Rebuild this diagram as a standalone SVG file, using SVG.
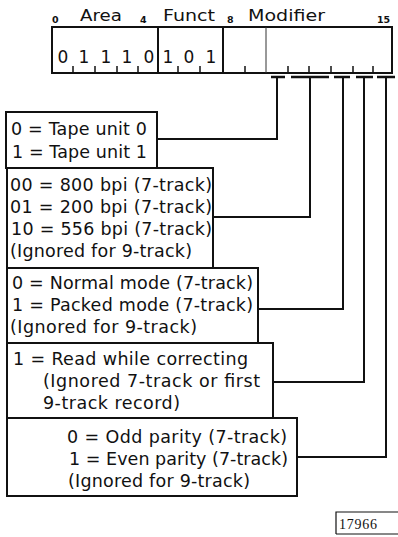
<svg xmlns="http://www.w3.org/2000/svg" width="398" height="537" viewBox="0 0 398 537">
<style>
text{font-family:"DejaVu Sans","Liberation Sans",sans-serif;fill:#111}
.t{font-size:17.5px}
.h{font-size:16.5px}
.n{font-size:9.5px;font-weight:bold}
.d{font-size:17px;text-anchor:middle}
.box{fill:#fff;stroke:#111;stroke-width:2}
.ln{fill:none;stroke:#111;stroke-width:2}
.tk{stroke:#111;stroke-width:1.5}
.cap{stroke:#111;stroke-width:2.5}
</style>
<rect width="398" height="537" fill="#fff"/>
<g id="register">
<text class="n" x="52" y="23">0</text>
<text class="h" x="80" y="21" textLength="42" lengthAdjust="spacingAndGlyphs">Area</text>
<text class="n" x="140" y="23">4</text>
<text class="h" x="163" y="21" textLength="52" lengthAdjust="spacingAndGlyphs">Funct</text>
<text class="n" x="227" y="23">8</text>
<text class="h" x="248" y="21" textLength="77" lengthAdjust="spacingAndGlyphs">Modifier</text>
<text class="n" x="377" y="23" textLength="13">15</text>
<rect x="52" y="27" width="340" height="46" fill="none" stroke="#111" stroke-width="2"/>
<line x1="158" y1="27" x2="158" y2="73" stroke="#111" stroke-width="2"/>
<line x1="223" y1="27" x2="223" y2="73" stroke="#111" stroke-width="2"/>
<line x1="266" y1="27" x2="266" y2="73" stroke="#333" stroke-width="1"/>
<g class="tk">
<line x1="73" y1="66" x2="73" y2="73"/><line x1="95" y1="66" x2="95" y2="73"/><line x1="117" y1="66" x2="117" y2="73"/><line x1="138" y1="66" x2="138" y2="73"/>
<line x1="178" y1="66" x2="178" y2="73"/><line x1="200" y1="66" x2="200" y2="73"/>
<line x1="245" y1="66" x2="245" y2="73"/>
<line x1="288" y1="66" x2="288" y2="73"/><line x1="309" y1="66" x2="309" y2="73"/><line x1="331" y1="66" x2="331" y2="73"/><line x1="353" y1="66" x2="353" y2="73"/><line x1="373" y1="66" x2="373" y2="73"/>
</g>
<text class="d" x="63" y="63">0</text>
<text class="d" x="84" y="63">1</text>
<text class="d" x="106" y="63">1</text>
<text class="d" x="127" y="63">1</text>
<text class="d" x="149" y="63">0</text>
<text class="d" x="168" y="63">1</text>
<text class="d" x="189" y="63">0</text>
<text class="d" x="211" y="63">1</text>
</g>
<g id="connectors">
<g class="cap">
<line x1="271" y1="77" x2="285" y2="77"/>
<line x1="291" y1="77" x2="329" y2="77"/>
<line x1="334" y1="77" x2="350" y2="77"/>
<line x1="356" y1="77" x2="373" y2="77"/>
<line x1="377" y1="77" x2="395" y2="77"/>
</g>
<polyline class="ln" points="277,77 277,139 157,139"/>
<polyline class="ln" points="310,77 310,217 213,217"/>
<polyline class="ln" points="343,77 343,309 258,309"/>
<polyline class="ln" points="364,77 364,382 273,382"/>
<polyline class="ln" points="386,77 386,457 297,457"/>
</g>
<g id="box-unit">
<rect class="box" x="6" y="112" width="151" height="56"/>
<text class="t" x="11" y="135" textLength="136">0 = Tape unit 0</text>
<text class="t" x="12" y="158" textLength="135">1 = Tape unit 1</text>
</g>
<g id="box-density">
<rect class="box" x="7" y="168" width="206" height="100"/>
<text class="t" x="10" y="191" textLength="202">00 = 800 bpi (7-track)</text>
<text class="t" x="10" y="213" textLength="202">01 = 200 bpi (7-track)</text>
<text class="t" x="11" y="235" textLength="201">10 = 556 bpi (7-track)</text>
<text class="t" x="10" y="257" textLength="182">(Ignored for 9-track)</text>
</g>
<g id="box-mode">
<rect class="box" x="7" y="268" width="251" height="75"/>
<text class="t" x="12" y="289" textLength="241">0 = Normal mode (7-track)</text>
<text class="t" x="12" y="311" textLength="241">1 = Packed mode (7-track)</text>
<text class="t" x="10" y="333" textLength="187">(Ignored for 9-track)</text>
</g>
<g id="box-read">
<rect class="box" x="7" y="343" width="266" height="75"/>
<text class="t" x="13" y="365" textLength="235">1 = Read while correcting</text>
<text class="t" x="43" y="387" textLength="217">(Ignored 7-track or first</text>
<text class="t" x="43" y="409" textLength="137">9-track record)</text>
</g>
<g id="box-parity">
<rect class="box" x="7" y="418" width="290" height="78"/>
<text class="t" x="67" y="443" textLength="220">0 = Odd parity (7-track)</text>
<text class="t" x="69" y="465" textLength="219">1 = Even parity (7-track)</text>
<text class="t" x="68" y="487" textLength="182">(Ignored for 9-track)</text>
</g>
<g id="figure-number">
<polyline points="336,534 336,512 400,512" fill="none" stroke="#111" stroke-width="1.2"/>
<line x1="336" y1="534" x2="400" y2="534" stroke="#111" stroke-width="1"/>
<text x="339" y="529" style="font-family:'Liberation Serif',serif;font-size:14px" textLength="38">17966</text>
</g>
</svg>
